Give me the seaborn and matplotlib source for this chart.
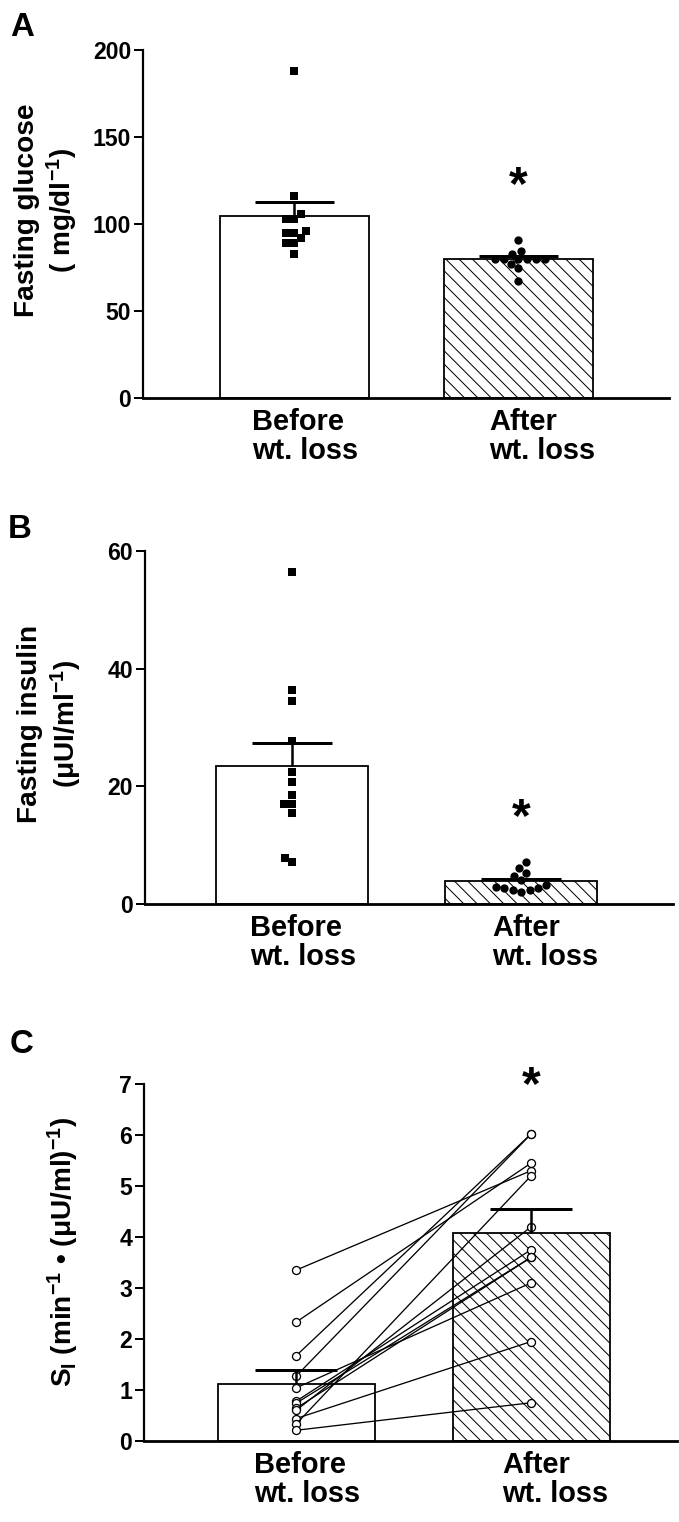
import numpy as np
import pandas as pd
import seaborn as sns

from matplotlib import pyplot as plt
from matplotlib import transforms

DPI = 80
W_PX, H_PX = 679, 1522


def pt(px):
    # pixel size -> points at the output dpi
    return px * 72.0 / DPI


GROUPS = ['Before\nwt. loss', 'After\nwt. loss']

# panel A, fasting glucose (mg/dl)
glucose_before = [188, 116, 106, 103, 103, 96, 95, 95, 92, 89, 89, 83]
glucose_after = [91, 84.5, 83, 80, 80, 80, 80, 80, 80, 77, 75, 67]

# panel B, fasting insulin (uU/ml)
insulin_before = [56.4, 36.3, 34.5, 27.7, 22.4, 20.7, 18.6, 17.0, 17.0, 15.4, 7.9, 7.1]
insulin_after = [7.1, 6.2, 5.3, 4.8, 4.1, 3.3, 2.9, 2.7, 2.4, 2.1, 2.4, 2.7]

# panel C, insulin sensitivity, paired by subject
si_before = [3.35, 2.33, 1.67, 1.27, 1.04, 0.78, 0.74, 0.64, 0.60, 0.44, 0.33, 0.21]
si_after = [5.30, 5.45, 6.02, 6.02, 3.10, 3.75, 3.60, 3.60, 4.20, 1.95, 5.20, 0.75]

glucose_ticks = [0, 50, 100, 150, 200]
insulin_ticks = [0, 20, 40, 60]
si_ticks = [0, 1, 2, 3, 4, 5, 6, 7]

star_y = {'A': 128, 'B': 16.4, 'C': 7.18}


def make_axes(fig, left, top, right, bottom):
    return fig.add_axes([left / W_PX, 1 - bottom / H_PX,
                         (right - left) / W_PX, (bottom - top) / H_PX])


def draw_bars(ax, before, after, width):
    df = pd.DataFrame({'group': [GROUPS[0]] * len(before) + [GROUPS[1]] * len(after),
                       'value': list(before) + list(after)})
    sns.barplot(data=df, x='group', y='value', order=GROUPS, errorbar=None,
                width=width, color='white', edgecolor='black',
                linewidth=pt(1.8), ax=ax, zorder=1)
    ax.patches[1].set_hatch('\\\\')


def draw_sem(ax, before, after, capw):
    pos = np.arange(len(GROUPS))
    means = np.array([np.mean(before), np.mean(after)])
    sems = np.array([np.std(v, ddof=1) / np.sqrt(len(v)) for v in (before, after)])
    tops = means + sems
    ax.vlines(pos, means, tops, colors='black', linewidth=pt(2.5), zorder=3)
    ax.hlines(tops, pos - capw / 2, pos + capw / 2, colors='black',
              linewidth=pt(3), zorder=3)


def style_axes(ax, letter, ylim, yticks, xlim, ylabel, label_xy, fig, letter_xy):
    ax.set_ylim(*ylim)
    ax.set_xlim(*xlim)
    ax.set_yticks(yticks)
    ax.set_xticks(range(len(GROUPS)))
    ax.set_xticklabels(GROUPS, fontsize=pt(29), fontweight='bold',
                       linespacing=1.05, multialignment='left')
    ax.tick_params(axis='x', length=0, pad=pt(10))
    ax.tick_params(axis='y', length=pt(9), width=pt(2), labelsize=pt(23), pad=pt(3))
    for lab in ax.get_yticklabels():
        lab.set_fontweight('bold')
    for lab, dx in zip(ax.get_xticklabels(), (11, 24)):
        off = transforms.ScaledTranslation(dx / DPI, 0, fig.dpi_scale_trans)
        lab.set_transform(lab.get_transform() + off)
    sns.despine(ax=ax)
    ax.spines['left'].set_linewidth(pt(2.2))
    ax.spines['bottom'].set_linewidth(pt(2.8))
    ax.set_xlabel('')
    ax.set_ylabel(ylabel, fontsize=pt(28), fontweight='bold', linespacing=1.2)
    ax.yaxis.set_label_coords(*label_xy)
    ax.annotate('*', xy=(1, star_y[letter]), xytext=(0, -pt(24)),
                textcoords='offset points', ha='center', va='baseline',
                fontsize=pt(48), fontweight='bold', annotation_clip=False)
    fig.text(letter_xy[0] / W_PX, 1 - letter_xy[1] / H_PX, letter,
             fontsize=pt(33), fontweight='bold', ha='left', va='top')


def main():
    sns.set_style('ticks')
    plt.rcParams['font.family'] = ['Liberation Sans', 'DejaVu Sans']
    plt.rcParams['font.weight'] = 'bold'
    plt.rcParams['axes.labelweight'] = 'bold'
    plt.rcParams['mathtext.fontset'] = 'custom'
    plt.rcParams['mathtext.rm'] = 'Liberation Sans:bold'
    plt.rcParams['mathtext.bf'] = 'Liberation Sans:bold'
    plt.rcParams['mathtext.it'] = 'Liberation Sans:bold:italic'
    plt.rcParams['mathtext.default'] = 'rm'
    plt.rcParams['hatch.linewidth'] = pt(1.0)
    plt.rcParams['axes.edgecolor'] = 'black'
    plt.rcParams['axes.labelcolor'] = 'black'
    plt.rcParams['text.color'] = 'black'
    plt.rcParams['xtick.color'] = 'black'
    plt.rcParams['ytick.color'] = 'black'

    fig = plt.figure(figsize=(W_PX / DPI, H_PX / DPI), dpi=DPI)

    ##########################
    ## A: FASTING GLUCOSE   ##
    ##########################
    ax_a = make_axes(fig, 143, 50, 669, 398)
    draw_bars(ax_a, glucose_before, glucose_after, 0.665)
    draw_sem(ax_a, glucose_before, glucose_after, 0.35)
    sns.swarmplot(x=[GROUPS[0]] * len(glucose_before), y=glucose_before, order=GROUPS,
                  marker='s', color='black', size=pt(8.3), ax=ax_a, zorder=4)
    sns.swarmplot(x=[GROUPS[1]] * len(glucose_after), y=glucose_after, order=GROUPS,
                  marker='o', color='black', size=pt(8.3), ax=ax_a, zorder=4)
    style_axes(ax_a, 'A', (0, 200), glucose_ticks, (-0.676, 1.672),
               'Fasting glucose\n( mg/dl$^{-1}$)', (-0.119, 0.54), fig, (10, 12))

    ##########################
    ## B: FASTING INSULIN   ##
    ##########################
    ax_b = make_axes(fig, 145, 551, 673, 904)
    draw_bars(ax_b, insulin_before, insulin_after, 0.664)
    draw_sem(ax_b, insulin_before, insulin_after, 0.35)
    sns.swarmplot(x=[GROUPS[0]] * len(insulin_before), y=insulin_before, order=GROUPS,
                  marker='s', color='black', size=pt(8.3), ax=ax_b, zorder=4)
    sns.swarmplot(x=[GROUPS[1]] * len(insulin_after), y=insulin_after, order=GROUPS,
                  marker='o', color='black', size=pt(8.3), ax=ax_b, zorder=4)
    style_axes(ax_b, 'B', (0, 60), insulin_ticks, (-0.643, 1.663),
               'Fasting insulin\n(μUI/ml$^{-1}$)', (-0.116, 0.51), fig, (8, 514))

    ##########################
    ## C: INSULIN SENSITIVITY ##
    ##########################
    ax_c = make_axes(fig, 144, 1084, 677, 1441)
    draw_bars(ax_c, si_before, si_after, 0.668)
    n = len(si_before)
    paired = pd.DataFrame({'subject': list(range(n)) * 2,
                           'group': [GROUPS[0]] * n + [GROUPS[1]] * n,
                           'value': si_before + si_after})
    paired['pos'] = paired['group'].map({g: i for i, g in enumerate(GROUPS)})
    sns.lineplot(data=paired, x='pos', y='value', units='subject', estimator=None,
                 sort=False, color='black', linewidth=pt(1.3), marker='o',
                 markersize=pt(8), markerfacecolor='white', markeredgecolor='black',
                 markeredgewidth=pt(1.3), legend=False, ax=ax_c, zorder=3)
    draw_sem(ax_c, si_before, si_after, 0.35)
    style_axes(ax_c, 'C', (0, 7), si_ticks, (-0.647, 1.621),
               '$\\mathrm{S}_{\\mathrm{I}}$ (min$^{-1}$ • (μU/ml)$^{-1}$)',
               (-0.118, 0.53), fig, (10, 1029))

    fig.savefig('out.png', dpi=DPI)


if __name__ == '__main__':
    main()
